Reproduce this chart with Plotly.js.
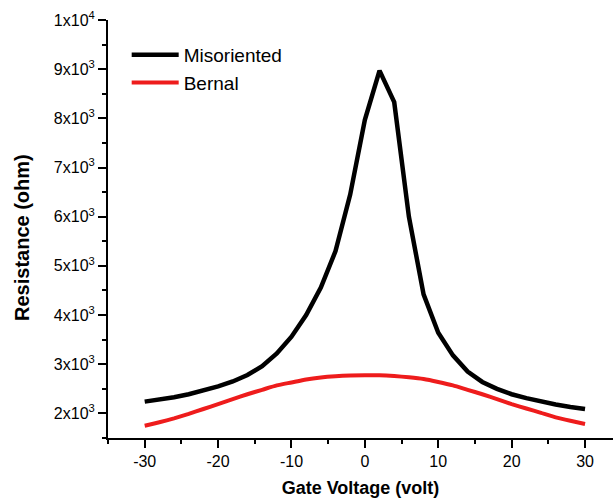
<!DOCTYPE html>
<html>
<head>
<meta charset="utf-8">
<script src="https://cdn.plot.ly/plotly-3.0.1.min.js"></script>
<style>html,body{margin:0;padding:0;background:#fff;}#chart{width:613px;height:498px;}</style>
</head>
<body>
<div id="chart"></div>
<script>
const gateVoltage = [-30,-28,-26,-24,-22,-20,-18,-16,-14,-12,-10,-8,-6,-4,-2,0,2,4,6,8,10,12,14,16,18,20,22,24,26,28,30];
const misoriented = [2240,2280,2330,2390,2460,2550,2650,2780,2960,3220,3560,4000,4560,5300,6450,7970,8970,8330,6000,4420,3640,3180,2850,2640,2500,2390,2310,2240,2180,2130,2090];
const bernal = [1750,1820,1900,1990,2090,2190,2290,2390,2480,2570,2630,2690,2730,2755,2770,2775,2775,2760,2735,2700,2640,2570,2480,2390,2290,2190,2100,2010,1920,1850,1785];
const xTickVals = [-30,-20,-10,0,10,20,30];
const xTickText = ['-30','-20','-10','0','10','20','30'];
const yTickVals = [2000,3000,4000,5000,6000,7000,8000,9000,10000];
const yTickText = ['2x10<sup>3</sup>','3x10<sup>3</sup>','4x10<sup>3</sup>','5x10<sup>3</sup>','6x10<sup>3</sup>','7x10<sup>3</sup>','8x10<sup>3</sup>','9x10<sup>3</sup>','1x10<sup>4</sup>'];
const seriesNames = ['Misoriented','Bernal'];
const xTitle = 'Gate Voltage (volt)';
const yTitle = 'Resistance (ohm)';

const FONT = '"Liberation Sans", Arial, sans-serif';
const traces = [
  {x: gateVoltage, y: misoriented, name: seriesNames[0], type: 'scatter', mode: 'lines',
   line: {color: '#000000', width: 4.5}},
  {x: gateVoltage, y: bernal, name: seriesNames[1], type: 'scatter', mode: 'lines',
   line: {color: '#ee1c1c', width: 4, shape: 'spline', smoothing: 0.6}}
];
const layout = {
  width: 613, height: 498,
  margin: {l: 108, r: 0, t: 20, b: 60},
  paper_bgcolor: '#ffffff', plot_bgcolor: '#ffffff',
  font: {family: FONT, color: '#000', size: 16},
  showlegend: true,
  legend: {x: 0.037, y: 0.962, xanchor: 'left', yanchor: 'top', bgcolor: 'rgba(0,0,0,0)',
    font: {family: FONT, size: 19, color: '#000'}, itemwidth: 47, tracegroupgap: 0},
  xaxis: {
    range: [-35, 33.81], showgrid: false, zeroline: false,
    showline: true, linecolor: '#000', linewidth: 2, mirror: false,
    ticks: 'outside', ticklen: 8, tickwidth: 2, tickcolor: '#000',
    tickvals: xTickVals, ticktext: xTickText,
    tickfont: {family: FONT, size: 16, color: '#000'},
    minor: {ticks: 'outside', ticklen: 4, tickwidth: 2, tickcolor: '#000', dtick: 5, tick0: 0, showgrid: false},
    title: {text: '<b>' + xTitle + '</b>', font: {family: FONT, size: 18, color: '#000'}, standoff: 12}
  },
  yaxis: {
    range: [1500, 10000], showgrid: false, zeroline: false,
    showline: true, linecolor: '#000', linewidth: 2,
    ticks: 'outside', ticklen: 8, tickwidth: 2, tickcolor: '#000',
    tickvals: yTickVals, ticktext: yTickText,
    tickfont: {family: FONT, size: 16, color: '#000'},
    minor: {ticks: 'outside', ticklen: 4, tickwidth: 2, tickcolor: '#000', dtick: 500, tick0: 0, showgrid: false}
  },
  annotations: [
    {text: '<b>' + yTitle + '</b>', xref: 'paper', yref: 'paper', x: -0.1693, y: 0.4797,
     xanchor: 'center', yanchor: 'middle', textangle: -90, showarrow: false,
     font: {family: FONT, size: 20, color: '#000'}}
  ]
};
Plotly.newPlot('chart', traces, layout, {displayModeBar: false, staticPlot: true});
</script>
</body>
</html>
